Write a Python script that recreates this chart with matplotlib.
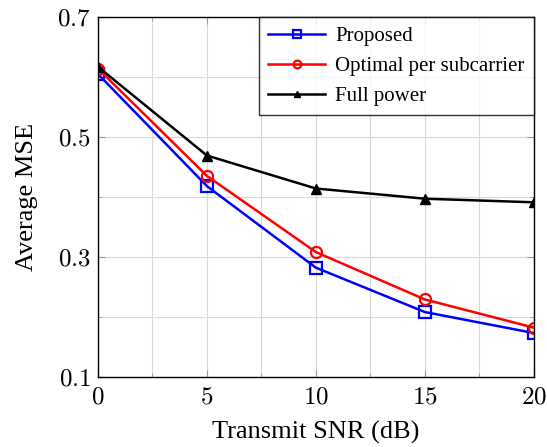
import matplotlib.pyplot as plt
from matplotlib.ticker import MultipleLocator, FixedLocator, FuncFormatter

snr = [0, 5, 10, 15, 20]
proposed = [0.605, 0.418, 0.282, 0.208, 0.173]
optimal = [0.614, 0.435, 0.308, 0.229, 0.182]
full_power = [0.617, 0.469, 0.414, 0.397, 0.391]

plt.rcParams['font.family'] = ['Liberation Serif', 'DejaVu Serif']
plt.rcParams['mathtext.fontset'] = 'cm'

fig = plt.figure(figsize=(5.47, 4.47), dpi=100)
ax = fig.add_axes([0.179, 0.157, 0.797, 0.805])

ax.plot(snr, proposed, color='blue', lw=1.8, marker='s', ms=8, mfc='none', mew=1.6, label='Proposed')
ax.plot(snr, optimal, color='red', lw=1.8, marker='o', ms=8, mfc='none', mew=1.6, label='Optimal per subcarrier')
ax.plot(snr, full_power, color='black', lw=1.8, marker='^', ms=7, mfc='black', label='Full power')

ax.set_xlim(0, 20)
ax.set_ylim(0.1, 0.7)
ax.xaxis.set_major_locator(MultipleLocator(5))
ax.xaxis.set_minor_locator(MultipleLocator(2.5))
ax.yaxis.set_major_locator(FixedLocator([0.1, 0.3, 0.5, 0.7]))
ax.yaxis.set_minor_locator(FixedLocator([0.2, 0.4, 0.6]))
ax.xaxis.set_major_formatter(FuncFormatter(lambda v, p: '$%g$' % v))
ax.yaxis.set_major_formatter(FuncFormatter(lambda v, p: '$%.1f$' % v))

ax.grid(True, which='both', color='#d9d9d9', lw=0.8)
ax.set_axisbelow(True)
ax.tick_params(which='both', direction='in', top=True, right=True, color='#999999')
ax.tick_params(which='major', length=5, labelsize=18, pad=5)
ax.tick_params(axis='x', which='major', pad=7)
ax.tick_params(which='minor', length=3)
for s in ax.spines.values():
    s.set_linewidth(1.0)

ax.set_xlabel('Transmit SNR (dB)', fontsize=19, labelpad=9)
ax.set_ylabel('Average MSE', fontsize=19, labelpad=14)

leg = ax.legend(loc='upper right', fontsize=15, frameon=True, fancybox=False,
                edgecolor='black', borderaxespad=0, handlelength=2.7,
                labelspacing=0.5, borderpad=0.45, handletextpad=0.5,
                markerscale=0.7)
leg.get_frame().set_linewidth(1.0)

fig.savefig('out.png', dpi=100)
